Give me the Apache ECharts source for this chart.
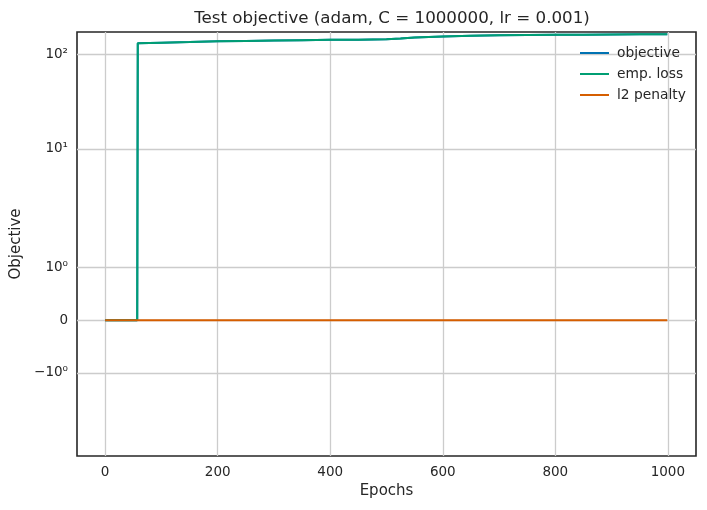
<!DOCTYPE html>
<html>
<head>
<meta charset="utf-8">
<script src="https://cdn.jsdelivr.net/npm/echarts@6/dist/echarts.min.js"></script>
<style>
  html, body { margin: 0; padding: 0; background: #fff; }
  #chart { width: 707px; height: 510px; }
</style>
</head>
<body>
<div id="chart"></div>
<script>
// values
var epochs    = [0, 57, 58, 100, 150, 200, 250, 300, 350, 400, 450, 500, 525, 550, 600, 650, 700, 750, 800, 850, 900, 950, 999];
var objective = [0, 0, 130.6, 132.5, 134.5, 137, 138.5, 140, 141, 142, 142.5, 144, 146.5, 150, 154, 157, 159, 160, 160.5, 161, 162, 162.5, 163];
var empLoss   = [0, 0, 130.6, 132.5, 134.5, 137, 138.5, 140, 141, 142, 142.5, 144, 146.5, 150, 154, 157, 159, 160, 160.5, 161, 162, 162.5, 163];
var l2Penalty = [0, 0, 0, 0, 0, 0, 0, 0, 0, 0, 0, 0, 0, 0, 0, 0, 0, 0, 0, 0, 0, 0, 0];

var xTicks = [0, 200, 400, 600, 800, 1000];
var yTicks = [-1, 0, 1, 10, 100];
var yTickLabels = ['\u221210\u2070', '0', '10\u2070', '10\u00b9', '10\u00b2'];

// symlog like matplotlib, linthresh 2, linscale 1
function symlog(v) {
    var L = 2, a = 1 / (1 - 1 / 10);
    if (Math.abs(v) <= L) return v * a;
    return Math.sign(v) * L * (a + Math.log10(Math.abs(v) / L));
}

function pairs(vals) {
    return epochs.map(function (e, i) { return [e, symlog(vals[i])]; });
}

var yTickPos = yTicks.map(symlog);
var ink = '#262626';

var myChart = echarts.init(document.getElementById('chart'));
myChart.setOption({
    animation: false,
    textStyle: { fontFamily: 'DejaVu Sans' },
    title: {
        text: 'Test objective (adam, C = 1000000, lr = 0.001)',
        left: 387, top: 5, textAlign: 'center',
        textStyle: { fontSize: 16.7, fontWeight: 'normal', color: ink, fontFamily: 'DejaVu Sans' }
    },
    legend: {
        orient: 'vertical',
        left: 575, top: 40,
        itemWidth: 29, itemHeight: 2, itemGap: 5,
        icon: 'rect',
        textStyle: { fontSize: 13.8, color: ink, lineHeight: 16, padding: [0, 0, 0, 3], fontFamily: 'DejaVu Sans' },
        data: ['objective', 'emp. loss', 'l2 penalty']
    },
    grid: {
        left: 77, right: 11, top: 32, bottom: 54,
        show: true, borderColor: ink, borderWidth: 1.6, backgroundColor: 'transparent'
    },
    xAxis: {
        type: 'value', min: -50, max: 1050,
        name: 'Epochs', nameLocation: 'middle', nameGap: 28,
        nameTextStyle: { fontSize: 15, color: ink },
        axisLine: { show: false },
        axisTick: { show: false, customValues: xTicks },
        axisLabel: { customValues: xTicks, fontSize: 13.5, color: ink, margin: 9,
                     formatter: function (v) { return String(v); } },
        splitLine: { show: true, lineStyle: { color: '#cccccc', width: 1.3 } }
    },
    yAxis: {
        type: 'value', min: -2.867, max: 6.091,
        name: 'Objective', nameLocation: 'middle', nameGap: 50,
        nameTextStyle: { fontSize: 15, color: ink },
        axisLine: { show: false },
        axisTick: { show: false, customValues: yTickPos },
        axisLabel: {
            customValues: yTickPos, fontSize: 13.5, color: ink, margin: 9,
            formatter: function (v) {
                var best = 0;
                yTickPos.forEach(function (p, i) {
                    if (Math.abs(p - v) < Math.abs(yTickPos[best] - v)) best = i;
                });
                return yTickLabels[best];
            }
        },
        splitLine: { show: true, lineStyle: { color: '#cccccc', width: 1.3 } }
    },
    series: [
        { name: 'objective', type: 'line', data: pairs(objective), showSymbol: false, symbol: 'none',
          lineStyle: { color: '#0072B2', width: 2 }, itemStyle: { color: '#0072B2' } },
        { name: 'emp. loss', type: 'line', data: pairs(empLoss), showSymbol: false, symbol: 'none',
          lineStyle: { color: '#009E73', width: 2 }, itemStyle: { color: '#009E73' } },
        { name: 'l2 penalty', type: 'line', data: pairs(l2Penalty), showSymbol: false, symbol: 'none',
          lineStyle: { color: '#D55E00', width: 2 }, itemStyle: { color: '#D55E00' } }
    ]
});
</script>
</body>
</html>
